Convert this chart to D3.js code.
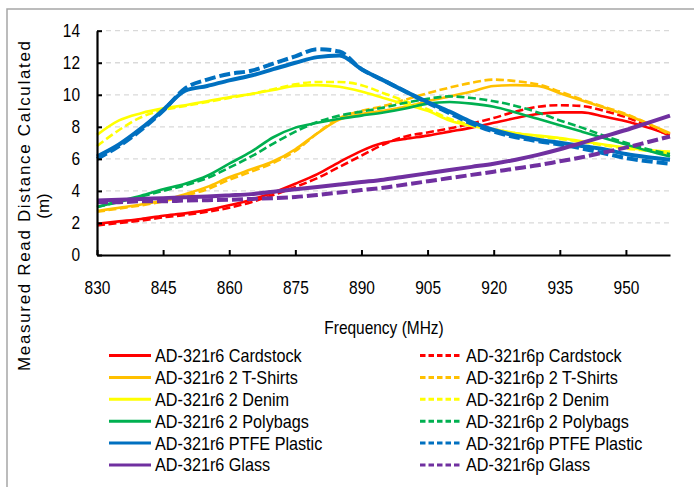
<!DOCTYPE html>
<html>
<head>
<meta charset="utf-8">
<script src="https://cdn.jsdelivr.net/npm/d3@7"></script>
<style>
  body { margin: 0; background: #fff; }
  text { font-family: "Liberation Sans", Arial, sans-serif; fill: #000; }
</style>
</head>
<body>
<div class="container"></div>
<script>
// frequency points (MHz)
var freq = [830,835,840,845,850,855,860,865,870,875,880,885,890,895,900,905,910,915,920,925,930,935,940,945,950,955,960];
var xTicks = [830,845,860,875,890,905,920,935,950];
var yTicks = [0,2,4,6,8,10,12,14];

// measured read distance (m)
var card6   = [1.95,2.1,2.25,2.45,2.6,2.8,3.1,3.45,3.9,4.45,5.05,5.8,6.5,7.0,7.25,7.45,7.7,7.95,8.25,8.55,8.8,8.9,8.9,8.65,8.35,7.95,7.5];
var card6p  = [1.85,2.0,2.15,2.35,2.5,2.7,2.95,3.3,3.75,4.25,4.8,5.5,6.2,6.9,7.4,7.65,7.9,8.2,8.55,8.95,9.25,9.35,9.3,9.0,8.6,8.05,7.45];
var shirt6  = [2.75,2.95,3.15,3.4,3.8,4.25,4.85,5.35,5.85,6.6,7.6,8.45,8.8,9.0,9.25,9.6,9.9,10.2,10.55,10.6,10.55,10.1,9.65,9.2,8.75,8.2,7.6];
var shirt6p = [2.7,2.9,3.1,3.35,3.7,4.1,4.7,5.2,5.75,6.5,7.6,8.55,9.0,9.3,9.7,10.1,10.45,10.75,10.95,10.85,10.65,10.2,9.7,9.25,8.8,8.2,7.5];
var denim6  = [7.5,8.4,8.85,9.15,9.35,9.6,9.85,10.05,10.3,10.55,10.6,10.5,10.2,9.8,9.4,9.0,8.4,8.05,7.85,7.6,7.45,7.3,7.1,6.9,6.7,6.55,6.45];
var denim6p = [6.8,7.8,8.6,9.05,9.3,9.55,9.8,10.05,10.35,10.65,10.8,10.8,10.6,10.1,9.6,9.1,8.5,8.1,7.85,7.6,7.4,7.25,7.05,6.85,6.65,6.5,6.35];
var poly6   = [3.0,3.35,3.7,4.1,4.45,4.95,5.7,6.45,7.35,7.95,8.25,8.5,8.7,8.9,9.15,9.45,9.55,9.45,9.25,8.9,8.5,8.1,7.7,7.3,6.9,6.5,6.15];
var poly6p  = [3.0,3.3,3.65,4.0,4.35,4.8,5.45,6.15,6.95,7.7,8.3,8.7,8.95,9.2,9.5,9.75,9.9,9.8,9.6,9.3,8.9,8.4,7.95,7.45,7.0,6.6,6.3];
var ptfe6   = [6.15,6.9,7.9,9.05,10.25,10.55,10.9,11.2,11.6,12.0,12.35,12.45,11.6,10.9,10.2,9.55,8.95,8.3,7.8,7.45,7.2,7.0,6.8,6.6,6.3,6.1,5.95];
var ptfe6p  = [6.0,6.8,7.8,9.0,10.4,10.95,11.3,11.5,11.95,12.4,12.85,12.7,11.6,10.9,10.2,9.5,8.85,8.2,7.7,7.35,7.1,6.9,6.65,6.35,6.05,5.85,5.7];
var glass6  = [3.4,3.45,3.5,3.55,3.6,3.65,3.72,3.8,3.95,4.1,4.25,4.4,4.55,4.7,4.9,5.1,5.3,5.5,5.7,5.95,6.25,6.6,7.0,7.4,7.8,8.25,8.7];
var glass6p = [3.3,3.3,3.35,3.35,3.4,3.42,3.45,3.5,3.55,3.62,3.75,3.9,4.05,4.2,4.4,4.6,4.8,5.0,5.2,5.4,5.6,5.85,6.1,6.4,6.7,7.05,7.4];

var names = ["AD-321r6 Cardstock","AD-321r6p Cardstock","AD-321r6 2 T-Shirts","AD-321r6p 2 T-Shirts",
  "AD-321r6 2 Denim","AD-321r6p 2 Denim","AD-321r6 2 Polybags","AD-321r6p 2 Polybags",
  "AD-321r6 PTFE Plastic","AD-321r6p PTFE Plastic","AD-321r6 Glass","AD-321r6p Glass"];
var values = [card6,card6p,shirt6,shirt6p,denim6,denim6p,poly6,poly6p,ptfe6,ptfe6p,glass6,glass6p];
var colors = ["#ff0000","#ff0000","#ffc000","#ffc000","#ffff00","#ffff00","#00b050","#00b050","#0070c0","#0070c0","#7030a0","#7030a0"];

var series = names.map(function(n, i) {
  return {
    name: n,
    color: colors[i],
    dashed: i % 2 == 1,
    thick: i >= 8,
    pts: freq.map(function(f, j) { return [f, values[i][j]]; })
  };
});

var W = 694, H = 487;
var m = {left: 97, right: 670, top: 30.7, bottom: 255};
var sx = 0.86; // horizontal squeeze of the narrow-looking text

var svg = d3.select(".container").append("svg")
  .attr("width", W).attr("height", H);

// chart area border (only top & left visible in the crop)
svg.append("rect")
  .attr("x", 7).attr("y", 9).attr("width", 900).attr("height", 700)
  .attr("fill", "none").attr("stroke", "#a6a6a6").attr("stroke-width", 1.5);

var xScale = d3.scaleLinear().domain([830, 960]).range([m.left, m.right]);
var yScale = d3.scaleLinear().domain([0, 14]).range([m.bottom, m.top]);

// gridlines
svg.append("g").selectAll("line")
  .data(yTicks.filter(function(d) { return d > 0; }))
  .enter().append("line")
  .attr("x1", m.left).attr("x2", m.right)
  .attr("y1", function(d) { return yScale(d); })
  .attr("y2", function(d) { return yScale(d); })
  .attr("stroke", "#d9d9d9").attr("stroke-width", 1.3)
  .attr("stroke-dasharray", "5,4");

// lines
var line = d3.line()
  .x(function(d) { return xScale(d[0]); })
  .y(function(d) { return yScale(d[1]); })
  .curve(d3.curveMonotoneX);

svg.append("g").selectAll("path")
  .data(series).enter().append("path")
  .attr("d", function(d) { return line(d.pts); })
  .attr("fill", "none")
  .attr("stroke", function(d) { return d.color; })
  .attr("stroke-width", function(d) { return d.thick ? 4 : 2.6; })
  .attr("stroke-dasharray", function(d) { return d.dashed ? (d.thick ? "11,4" : "8,3.5") : null; });

// axes
var xAxis = d3.axisBottom(xScale).tickValues(xTicks).tickSizeInner(-5).tickSizeOuter(0).tickPadding(26)
  .tickFormat(d3.format("d"));
var gx = svg.append("g").attr("transform", "translate(0," + m.bottom + ")").call(xAxis);

var yAxis = d3.axisLeft(yScale).tickValues(yTicks).tickSizeInner(-5).tickSizeOuter(0).tickPadding(17);
var gy = svg.append("g").attr("transform", "translate(" + m.left + ",0)").call(yAxis);

[gx, gy].forEach(function(g) {
  g.select(".domain").attr("stroke", "#000").attr("stroke-width", 2.2);
  g.selectAll(".tick line").attr("stroke", "#000").attr("stroke-width", 2);
  g.selectAll(".tick text").style("font-size", "18px").attr("fill", "#000");
});
gx.selectAll(".tick text").attr("transform", "scale(" + sx + ",1)");
gy.selectAll(".tick text").each(function() {
  var t = d3.select(this);
  var x = +t.attr("x");
  t.attr("x", 0).attr("transform", "translate(" + x + ",0) scale(" + sx + ",1)");
});

// axis titles
svg.append("text")
  .attr("transform", "translate(384,328) scale(" + sx + ",1)")
  .attr("text-anchor", "middle").attr("dy", "0.35em")
  .style("font-size", "18px")
  .text("Frequency (MHz)");

svg.append("text")
  .attr("transform", "translate(24,206) rotate(-90)")
  .attr("text-anchor", "middle").attr("dy", "0.35em")
  .attr("textLength", 330).attr("lengthAdjust", "spacing")
  .style("font-size", "17px")
  .text("Measured Read Distance Calculated");

svg.append("text")
  .attr("transform", "translate(43,206) rotate(-90)")
  .attr("text-anchor", "middle").attr("dy", "0.35em")
  .style("font-size", "17px")
  .text("(m)");

// legend, two columns: r6 left, r6p right
var legend = svg.append("g").selectAll("g")
  .data(series).enter().append("g")
  .attr("transform", function(d, i) {
    var col = i % 2, row = Math.floor(i / 2);
    return "translate(" + (col ? 420 : 109) + "," + (355.5 + row * 21.9) + ")";
  });

legend.append("line")
  .attr("x1", 0).attr("x2", 42).attr("y1", 0).attr("y2", 0)
  .attr("stroke", function(d) { return d.color; })
  .attr("stroke-width", 3)
  .attr("stroke-dasharray", function(d) { return d.dashed ? "5.5,3" : null; });

legend.append("text")
  .attr("transform", "translate(46,0) scale(0.9,1)")
  .attr("dy", "0.36em")
  .style("font-size", "18px")
  .text(function(d) { return d.name; });
</script>
</body>
</html>
